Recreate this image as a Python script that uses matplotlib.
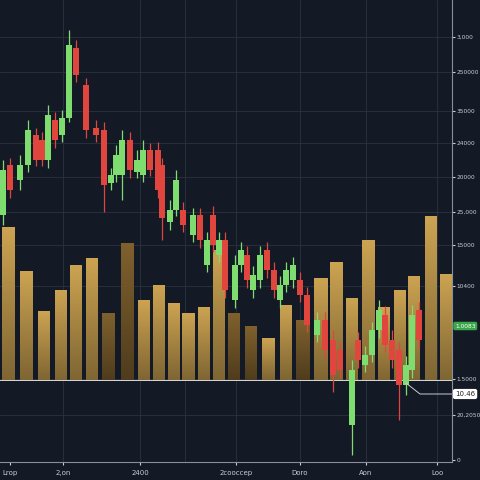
import matplotlib
matplotlib.use("Agg")
import matplotlib.pyplot as plt
import numpy as np

# candles: x, open, close, high, low  (values in chart units)
cx = [3,10,20,28,36,42,48,55,62,69,76,86,96,104,111,116,122,130,137,143,150,158,162,170,176,183,193,200,207,213,219,225,235,241,247,253,260,267,274,280,286,293,300,307,317,325,333,340,352,358,365,372,379,385,392,399,406,412,419]
c_top = [170,165,165,130,135,140,115,120,118,45,48,85,128,130,175,155,140,140,160,150,150,150,165,210,180,210,215,215,240,215,240,240,265,250,255,275,255,250,270,285,270,265,280,295,320,320,340,350,370,340,355,330,310,315,340,350,365,315,310]
c_bot = [215,190,180,165,160,160,160,140,135,118,75,130,135,185,183,175,175,170,172,175,170,190,218,222,210,225,235,240,265,245,255,290,300,265,280,290,280,270,290,300,285,280,295,325,335,350,375,370,425,360,365,355,330,345,360,385,385,370,340]
c_up = [1,0,1,1,0,0,1,0,1,1,0,0,0,0,1,1,1,0,1,1,0,0,0,1,1,0,1,0,1,0,1,0,1,1,0,1,1,0,0,1,1,1,0,0,1,0,0,0,1,0,1,1,1,0,0,0,1,1,0]
c_whi = [160,158,155,120,128,132,105,112,110,30,40,78,120,122,168,145,130,132,150,140,143,142,158,200,170,202,208,208,232,206,232,232,255,242,246,266,246,242,262,276,262,257,272,287,312,312,330,342,360,332,346,322,300,306,330,342,356,305,302]
c_wlo = [225,198,190,172,166,166,168,148,142,122,82,138,142,212,190,182,200,178,178,182,176,198,240,230,216,232,242,248,272,252,262,298,308,272,288,298,288,278,298,308,292,288,302,332,342,358,392,378,455,368,372,362,338,352,368,420,395,378,348]

# volume bars: x-left, x-right, top
vx0 = [2,20,38,55,70,86,102,121,138,153,168,182,198,213,228,245,262,280,296,314,330,346,362,378,394,408,425,440]
vx1 = [15,33,50,67,82,98,115,134,150,165,180,195,210,225,240,257,275,292,310,328,343,358,375,390,406,420,437,452]
vtop = [227,271,311,290,265,258,313,243,300,285,303,313,307,250,313,326,338,305,320,278,262,298,240,307,290,276,216,274]
vdark = [0,0,0,0,0,0,1,1,0,0,0,0,0,0,1,1,0,0,1,0,0,0,0,0,0,0,0,0]

ytick_py = [37,72,111,143,177,212,245,286,379,415,460]
ytick_lab = ["3,000","250000","35000","24000","20000","25,000","15000","10400","1.5000","20,2050","0"]
xtick_px = [10,63,140,236,300,366,437]
xtick_lab = ["Lrop","2,on","2400","2cooccep","Doro","Aon","Loo"]
vgrid = [63,140,185,236,300,366,437]

V = lambda py: 460 - py
bg = "#131925"
fig = plt.figure(figsize=(4.8,4.8), dpi=100, facecolor=bg)
ax = fig.add_axes([0, 0.0375, 452/480, 462/480], facecolor=bg)
ax.set_xlim(0, 452); ax.set_ylim(-2, 460)
for s in ["top","left"]: ax.spines[s].set_visible(False)
for s in ["right","bottom"]: ax.spines[s].set_color("#8a8f99"); ax.spines[s].set_linewidth(0.8)
for p in ytick_py[:-1]:
    ax.axhline(V(p), color="#2a3140", lw=0.6, zorder=0)
for x in vgrid:
    ax.axvline(x, color="#2a3140", lw=0.6, zorder=0)

base = V(380)
for a,b,t,d in zip(vx0,vx1,vtop,vdark):
    grad = np.linspace(0,1,100).reshape(-1,1)
    c1 = np.array([0.50,0.38,0.18]) if d else np.array([0.80,0.64,0.32])
    c0 = c1*0.62
    img = c0 + (c1-c0)*grad[...,None]
    ax.imshow(img, extent=[a,b,base,V(t)], origin="lower", aspect="auto", zorder=1)
ax.axhline(base, color="#d9d9d9", lw=0.7, zorder=2)

for x,t,b,u,hi,lo in zip(cx,c_top,c_bot,c_up,c_whi,c_wlo):
    col = "#7fdc6f" if u else "#e0463e"
    ax.vlines(x, V(lo), V(hi), color=col, lw=0.9, zorder=3)
    ax.bar(x, V(t)-V(b), bottom=V(b), width=5.5, color=col, zorder=4)

ax.yaxis.tick_right()
ax.set_yticks([V(p) for p in ytick_py]); ax.set_yticklabels(ytick_lab)
ax.set_xticks(xtick_px); ax.set_xticklabels(xtick_lab)
ax.tick_params(axis="y", colors="#c9ccd2", labelsize=4.2, length=2, pad=1.5)
ax.tick_params(axis="x", colors="#c9ccd2", labelsize=5, length=2)
ax.text(455, V(326), "1.0083", fontsize=4.2, color="white", va="center",
        bbox=dict(boxstyle="round,pad=0.3", fc="#3aa64a", ec="none"), clip_on=False)
ax.text(455, V(394), "10.46", fontsize=5, color="#222", va="center",
        bbox=dict(boxstyle="round,pad=0.3", fc="white", ec="none"), clip_on=False)
ax.plot([406,420,452],[V(383),V(394),V(394)], color="#cccccc", lw=0.7, zorder=5)
fig.savefig("out.png", dpi=100, facecolor=bg)
